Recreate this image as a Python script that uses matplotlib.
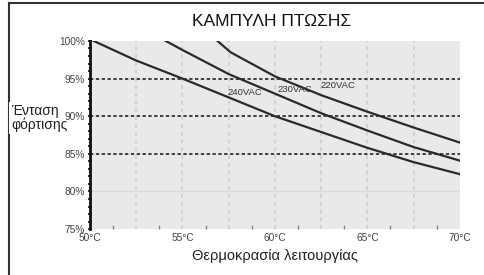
import numpy as np
import matplotlib.pyplot as plt
from matplotlib.lines import Line2D

plt.rcParams['font.family'] = ['Liberation Sans', 'DejaVu Sans']

# derating curves (temperature in C, load in %)
t_240 = [50.2, 52.5, 55.0, 57.5, 60.0, 62.5, 65.0, 67.5, 70.0]
p_240 = [100.0, 97.4, 95.0, 92.5, 90.0, 87.9, 85.8, 83.9, 82.3]
t_230 = [54.1, 55.0, 57.5, 60.0, 62.5, 65.0, 67.5, 70.0]
p_230 = [100.0, 98.8, 95.6, 93.0, 90.4, 88.1, 85.9, 84.1]
t_220 = [56.9, 57.6, 60.0, 62.5, 65.0, 67.5, 70.0]
p_220 = [100.0, 98.5, 95.3, 92.8, 90.6, 88.5, 86.5]

curve_labels = ['240VAC', '230VAC', '220VAC']
label_pos = [(58.4, 93.2), (61.1, 93.6), (63.4, 94.1)]

x_ticks = [50, 55, 60, 65, 70]
x_ticklabels = ['50°C', '55°C', '60°C', '65°C', '70°C']
y_ticks = [75, 80, 85, 90, 95, 100]
y_ticklabels = ['75%', '80%', '85%', '90%', '95%', '100%']

fig = plt.figure(figsize=(4.84, 2.75), dpi=100)
ax = fig.add_axes([0.186, 0.167, 0.764, 0.684])
ax.set_facecolor('#e9e9e9')
ax.set_xlim(50, 70)
ax.set_ylim(75, 100)

# grid
for xv in np.arange(52.5, 70, 2.5):
    ax.axvline(xv, color='#d2d2d2', lw=1.4, ls=(0, (2, 2)), zorder=1)
ax.axhline(80, color='#d8d8d8', lw=1.0, zorder=1)
for yv in [85, 90, 95]:
    ax.axhline(yv, color='#222222', lw=1.2, ls=(0, (2, 1.5)), zorder=2)

# curves
ax.plot(t_240, p_240, color='#2a2a2a', lw=1.6, zorder=3)
ax.plot(t_230, p_230, color='#2a2a2a', lw=1.6, zorder=3)
ax.plot(t_220, p_220, color='#2a2a2a', lw=1.6, zorder=3)
for lab, (xx, yy) in zip(curve_labels, label_pos):
    ax.text(xx, yy, lab, fontsize=6.8, ha='center', va='center', color='#333333')

# axes styling
for s in ['top', 'right', 'bottom']:
    ax.spines[s].set_visible(False)
ax.spines['left'].set_linewidth(2)
ax.spines['left'].set_color('#111111')
ax.set_yticks(y_ticks)
ax.set_yticklabels(y_ticklabels, fontsize=7.3, color='#444444')
ax.set_yticks(np.arange(75, 100, 1), minor=True)
ax.tick_params(axis='y', which='both', direction='inout', length=3, width=1.2, color='#111111', pad=2)
ax.set_xticks(x_ticks)
ax.set_xticklabels(x_ticklabels, fontsize=7.3, color='#444444')
ax.tick_params(axis='x', which='major', length=0, pad=3)
ax.set_xticks(np.arange(51.25, 70, 2.5), minor=True)
ax.tick_params(axis='x', which='minor', direction='in', length=3, width=1, color='#888888')

ax.set_xlabel('Θερμοκρασία λειτουργίας', fontsize=10.5, color='#222222', labelpad=4)
# y label sits on a white box that interrupts the left frame line
fig.text(0.023, 0.571, 'Ένταση\nφόρτισης', fontsize=10, color='#222222', ha='left', va='center',
         linespacing=0.95, bbox=dict(facecolor='white', edgecolor='none', pad=1.5), zorder=-1)
fig.text(0.562, 0.92, 'ΚΑΜΠΥΛΗ ΠΤΩΣΗΣ', fontsize=12.5, color='#111111', ha='center', va='center')

# frame lines on top and left of the picture
fig.add_artist(Line2D([0.019, 1.0], [0.988, 0.988], color='#333333', lw=1.5, transform=fig.transFigure, zorder=-2))
fig.add_artist(Line2D([0.019, 0.019], [0.0, 0.988], color='#333333', lw=1.5, transform=fig.transFigure, zorder=-2))

fig.savefig('out.png', dpi=100)
